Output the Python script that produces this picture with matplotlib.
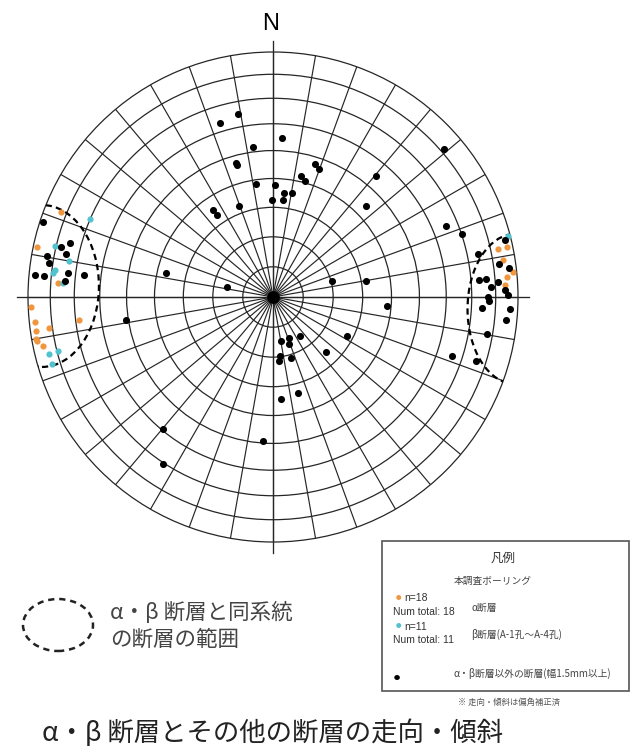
import numpy as np
import matplotlib
matplotlib.use("Agg")
import matplotlib.pyplot as plt
from matplotlib.patches import Circle, Ellipse, Rectangle

plt.rcParams['font.family'] = ['Noto Sans CJK JP', 'DejaVu Sans']
plt.rcParams['lines.scale_dashes'] = False

# ---------------- data (pole positions on the equal-area net, east / north, R = 1) -------------
black_east = [-0.142, -0.216, 0.035, -0.082, -0.151, -0.147, 0.172, 0.186, 0.698, 0.419,
              0.115, 0.132, -0.069, 0.010, 0.046, 0.078, -0.005, 0.040, -0.137, -0.246,
              -0.230, 0.381, 0.706, 0.772, -0.438, -0.187, 0.242, 0.378, 0.465, -0.599,
              -0.773, 0.033, 0.064, 0.067, 0.110, 0.300, 0.218, 0.029, 0.025, 0.073,
              0.033, 0.101, -0.040, -0.450, -0.447, 0.730, 0.829, 0.836, 0.947, 0.923,
              0.965, 0.842, 0.869, 0.889, 0.920, 0.947, 0.958, 0.878, 0.882, 0.852,
              0.969, 0.952, 0.873, -0.940, -0.830, -0.864, -0.844, -0.924, -0.913, -0.972,
              -0.934, -0.838, -0.849]
black_north = [0.746, 0.709, 0.649, 0.614, 0.548, 0.540, 0.542, 0.524, 0.603, 0.494,
               0.495, 0.474, 0.460, 0.456, 0.425, 0.424, 0.396, 0.396, 0.371, 0.357,
               0.333, 0.373, 0.291, 0.256, 0.096, 0.042, 0.066, 0.067, -0.037, -0.094,
               0.088, -0.178, -0.169, -0.190, -0.158, -0.160, -0.226, -0.242, -0.260, -0.249,
               -0.417, -0.392, -0.588, -0.537, -0.683, -0.241, -0.260, 0.175, 0.232, 0.134,
               0.118, 0.069, 0.072, 0.042, 0.062, 0.030, 0.009, -0.001, -0.015, -0.046,
               -0.047, -0.092, -0.151, 0.308, 0.220, 0.203, 0.175, 0.167, 0.137, 0.090,
               0.087, 0.098, 0.066]

alpha_east = [-0.867, -0.965, -0.876, -0.986, -0.971, -0.967, -0.914, -0.968, -0.962, -0.940,
              -0.792, 0.920, 0.954, 0.937, 0.981, 0.954, 0.945, 0.945]
alpha_north = [0.347, 0.206, 0.058, -0.039, -0.104, -0.138, -0.126, -0.171, -0.180, -0.202,
               -0.095, 0.195, 0.206, 0.151, 0.104, 0.082, 0.047, 0.030]

beta_east = [-0.745, -0.890, -0.834, -0.888, -0.898, -0.859, -0.914, -0.878, -0.902, 0.959, 0.920]
beta_north = [0.320, 0.209, 0.148, 0.112, 0.098, 0.059, -0.231, -0.222, -0.273, 0.247, 0.062]

# ranges of faults of the same system as alpha / beta (ellipses on the net)
zone_east = [-0.943, 0.988]
zone_north = [0.045, -0.049]
zone_width = [0.465, 0.388]
zone_height = [0.661, 0.612]

dip_circles = [10, 20, 30, 40, 50, 60, 70, 80, 90]
azimuth_lines = list(range(0, 360, 10))

# ---------------- figure ----------------
W, H = 630, 756
fig = plt.figure(figsize=(W / 100, H / 100), dpi=100)
fig.patch.set_facecolor('white')

cx, cy, R, half = 273, 297, 245, 260
ax = fig.add_axes([(cx - half) / W, (H - (cy + half)) / H, 2 * half / W, 2 * half / H])
lim = half / R
ax.set_xlim(-lim, lim)
ax.set_ylim(-lim, lim)
ax.set_aspect('equal')
ax.axis('off')

grid_c = '#262626'
# equal-area (Schmidt) polar net
for d in dip_circles:
    r = np.sqrt(2) * np.sin(np.radians(d) / 2)
    ax.add_patch(Circle((0, 0), r, fill=False, ec=grid_c, lw=0.9, zorder=1))
for a in azimuth_lines:
    t = np.radians(a)
    ax.plot([0, np.sin(t)], [0, np.cos(t)], color=grid_c, lw=0.85, zorder=1,
            solid_capstyle='butt')
ext = 1.045
ax.plot([0, 0], [-ext, ext], color=grid_c, lw=0.95, zorder=1)
ax.plot([-ext, ext], [0, 0], color=grid_c, lw=0.95, zorder=1)
ax.scatter([0], [0], s=85, color='black', zorder=2, linewidths=0)

clip = Circle((0, 0), 1.0, transform=ax.transData, fill=False, lw=0)
ax.add_patch(clip)
clip.set_visible(False)
for ex, ny, w, h in zip(zone_east, zone_north, zone_width, zone_height):
    e = Ellipse((ex, ny), w, h, fill=False, ec='black', lw=1.6,
                linestyle=(0, (4.5, 3.0)), zorder=3)
    ax.add_patch(e)
    e.set_clip_path(clip)

ax.scatter(alpha_east, alpha_north, s=20, color='#F0963E', linewidths=0, zorder=4)
ax.scatter(beta_east, beta_north, s=20, color='#52C2CF', linewidths=0, zorder=4)
ax.scatter(black_east, black_north, s=26, color='black', linewidths=0, zorder=5)

fig.text(271 / W, 1 - 24 / H, 'N', ha='center', va='center', fontsize=17,
         family=['Liberation Sans', 'DejaVu Sans'], color='black')

# ---------------- legend (dashed range) ----------------
def fx(x):
    return x / W


def fy(y):
    return 1 - y / H


fig.patches.append(Ellipse((fx(58), fy(625)), 70 / W, 52 / H, transform=fig.transFigure,
                           fill=False, ec='#222222', lw=1.8, linestyle=(0, (4.5, 3.5))))
fig.text(fx(110), fy(613), 'α・β 断層と同系統', ha='left', va='center', fontsize=15.5,
         color='#444444')
fig.text(fx(110), fy(640), 'の断層の範囲', ha='left', va='center', fontsize=15.5,
         color='#444444')

# ---------------- legend box ----------------
fig.patches.append(Rectangle((fx(382), fy(691)), 247 / W, 150 / H, transform=fig.transFigure,
                             fill=False, ec='#555555', lw=1.2))
fig.text(fx(503), fy(558), '凡例', ha='center', va='center', fontsize=9, color='#333333')
fig.text(fx(493), fy(581), '本調査ボーリング', ha='center', va='center', fontsize=7,
         color='#444444')
leg_font = ['Liberation Sans', 'DejaVu Sans']
fig.text(fx(398), fy(598), '●', ha='center', va='center', fontsize=4, color='#F0963E')
fig.text(fx(404), fy(598), 'n=18', ha='left', va='center', fontsize=7.5, color='#333333',
         family=leg_font)
fig.text(fx(393), fy(612), 'Num total: 18', ha='left', va='center', fontsize=7.5,
         color='#333333', family=leg_font)
fig.text(fx(471), fy(608), 'α断層', ha='left', va='center', fontsize=7, color='#444444')
fig.text(fx(398), fy(627), '●', ha='center', va='center', fontsize=4, color='#52C2CF')
fig.text(fx(404), fy(627), 'n=11', ha='left', va='center', fontsize=7.5, color='#333333',
         family=leg_font)
fig.text(fx(393), fy(640), 'Num total: 11', ha='left', va='center', fontsize=7.5,
         color='#333333', family=leg_font)
fig.text(fx(471), fy(634), 'β断層(A-1孔～A-4孔)', ha='left', va='center', fontsize=7,
         color='#444444')
fig.text(fx(397), fy(678), '●', ha='center', va='center', fontsize=4.5, color='black')
fig.text(fx(453), fy(673), 'α・β断層以外の断層(幅1.5mm以上)', ha='left', va='center',
         fontsize=7, color='#444444')
fig.text(fx(458), fy(702), '※ 走向・傾斜は偏角補正済', ha='left', va='center', fontsize=6,
         color='#555555')

# ---------------- title ----------------
fig.text(fx(273), fy(733), 'α・β 断層とその他の断層の走向・傾斜', ha='center', va='center',
         fontsize=19, color='#222222')

fig.savefig('out.png', dpi=100, facecolor='white')
